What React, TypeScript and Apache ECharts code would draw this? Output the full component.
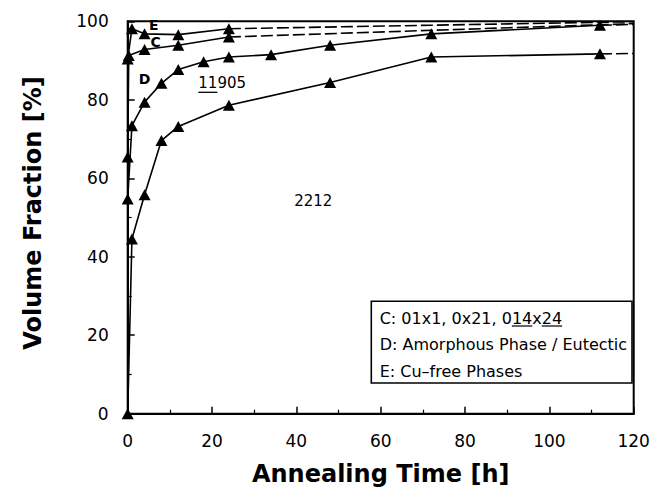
import React, { useEffect, useRef } from "react";
import * as echarts from "echarts";

// Annealing time (h) at which each sample was measured
const hours2212 = [0, 1, 4, 8, 12, 24, 48, 72, 112];
const hours11905 = [0, 1, 4, 8, 12, 18, 24, 34, 48, 72, 112];
const hoursC = [0, 0.25, 4, 12, 24];
const hoursE = [0, 1, 4, 12, 24];

// Cumulative volume fractions (%): each curve is the upper bound of a phase field
const cum2212 = [0, 44.5, 55.8, 69.6, 73.2, 78.6, 84.4, 90.9, 91.7];
const cum11905 = [54.7, 73.4, 79.4, 84.2, 87.7, 89.7, 90.9, 91.5, 93.9, 96.8, 99.0];
const cumD = [65.4, 91.3, 92.8, 93.9, 96.0];
const cumC = [90.4, 98.1, 96.8, 96.6, 98.1];

// Extrapolated values at the end of the time axis (dashed continuation)
const extrapHour = 120;
const extrap2212 = 91.8;
const extrap11905 = 99.2;
const extrapD = 99.4;
const extrapC = 99.9;

// Field labels inside the plot, placed in data coordinates [h, %]
const fieldLabels: { text: string; at: [number, number]; underline?: number }[] = [
  { text: "E", at: [6.2, 99.0] },
  { text: "C", at: [6.6, 94.6] },
  { text: "D", at: [4.0, 85.3] },
  { text: "11905", at: [22.4, 84.2], underline: 2 },
  { text: "2212", at: [44.0, 54.3] },
];

const legendLines = ["C: 01x1, 0x21, 014x24", "D: Amorphous Phase / Eutectic", "E: Cu\u2013free Phases"];

const FONT = "DejaVu Sans";

function measure(text: string, font: string): number {
  const ctx = document.createElement("canvas").getContext("2d");
  if (!ctx) return text.length * 8;
  ctx.font = font;
  return ctx.measureText(text).width;
}

function pairs(xs: number[], ys: number[]): number[][] {
  return xs.map((x, i) => [x, ys[i]]);
}

function measuredSeries(name: string, xs: number[], ys: number[]) {
  return {
    name,
    type: "line",
    data: pairs(xs, ys),
    symbol: "triangle",
    symbolSize: [12, 11],
    itemStyle: { color: "#000" },
    lineStyle: { color: "#000", width: 1.6 },
    z: 3,
  };
}

function dashedSeries(name: string, xs: number[], ys: number[], end: number) {
  return {
    name,
    type: "line",
    data: [
      [xs[xs.length - 1], ys[ys.length - 1]],
      [extrapHour, end],
    ],
    symbol: "none",
    lineStyle: { color: "#000", width: 1.6, type: [12, 4] },
    z: 2,
  };
}

export default function App() {
  const ref = useRef<HTMLDivElement>(null);

  useEffect(() => {
    if (!ref.current) return;
    const chart = echarts.init(ref.current, null, { renderer: "svg" });

    const axisCommon = {
      axisLine: { show: true, lineStyle: { color: "#000", width: 2 } },
      axisTick: { show: true, inside: true, length: 7, lineStyle: { color: "#000", width: 1.5 } },
      minorTick: { show: true, splitNumber: 2, length: 4, lineStyle: { color: "#000", width: 1.2 } },
      splitLine: { show: false },
      axisLabel: { color: "#000", fontFamily: FONT, fontSize: 17, margin: 19 },
    };

    chart.setOption({
      animation: false,
      backgroundColor: "#fff",
      grid: {
        left: 119.7,
        right: 36.3,
        top: 13.3,
        bottom: 87.3,
        show: true,
        borderColor: "#000",
        borderWidth: 2,
      },
      xAxis: { type: "value", min: 0, max: 120, interval: 20, ...axisCommon },
      yAxis: { type: "value", min: 0, max: 100, interval: 20, ...axisCommon },
      series: [
        measuredSeries("2212", hours2212, cum2212),
        measuredSeries("11905", hours11905, cum11905),
        measuredSeries("D", hoursC, cumD),
        measuredSeries("C", hoursE, cumC),
        dashedSeries("2212 ext", hours2212, cum2212, extrap2212),
        dashedSeries("11905 ext", hours11905, cum11905, extrap11905),
        dashedSeries("D ext", hoursC, cumD, extrapD),
        dashedSeries("C ext", hoursE, cumC, extrapC),
      ],
    });

    const graphics: any[] = [];

    // Axis titles
    graphics.push({
      type: "text",
      x: 372.7,
      y: 466,
      style: {
        text: "Annealing Time [h]",
        font: `bold 24px "${FONT}"`,
        fill: "#000",
        align: "center",
        verticalAlign: "middle",
      },
    });
    graphics.push({
      type: "text",
      x: 25,
      y: 205,
      rotation: Math.PI / 2,
      style: {
        text: "Volume Fraction [%]",
        font: `bold 24px "${FONT}"`,
        fill: "#000",
        align: "center",
        verticalAlign: "middle",
      },
    });

    // Field labels
    const labelFont = `15px "${FONT}"`;
    fieldLabels.forEach((lab) => {
      const p = chart.convertToPixel({ gridIndex: 0 }, lab.at) as number[];
      graphics.push({
        type: "text",
        x: p[0],
        y: p[1],
        z: 5,
        style: {
          text: lab.text,
          font: lab.text.length === 1 ? `bold 14px "${FONT}"` : labelFont,
          fill: "#000",
          align: "center",
          verticalAlign: "middle",
        },
      });
      if (lab.underline) {
        const w = measure(lab.text, labelFont);
        const uw = measure(lab.text.slice(0, lab.underline), labelFont);
        const x0 = p[0] - w / 2;
        graphics.push({
          type: "line",
          shape: { x1: x0, y1: p[1] + 9, x2: x0 + uw, y2: p[1] + 9 },
          style: { stroke: "#000", lineWidth: 1.3 },
        });
      }
    });

    // Legend box
    const boxX = 363.3;
    const boxY = 293.3;
    const boxW = 260.7;
    const boxH = 81.7;
    graphics.push({
      type: "rect",
      shape: { x: boxX, y: boxY, width: boxW, height: boxH },
      style: { fill: "#fff", stroke: "#000", lineWidth: 1.6 },
      z: 10,
    });
    const legendFont = `16px "${FONT}"`;
    const rowY = [310, 336.7, 363.3];
    legendLines.forEach((t, i) => {
      graphics.push({
        type: "text",
        x: 371.7,
        y: rowY[i],
        z: 11,
        style: { text: t, font: legendFont, fill: "#000", align: "left", verticalAlign: "middle" },
      });
    });
    // Underlines under the "14" and "24" indices of the first row
    const row0 = legendLines[0];
    const idx14 = row0.lastIndexOf("14");
    const idx24 = row0.lastIndexOf("24");
    [idx14, idx24].forEach((idx) => {
      const xs = 371.7 + measure(row0.slice(0, idx), legendFont);
      const xe = 371.7 + measure(row0.slice(0, idx + 2), legendFont);
      graphics.push({
        type: "line",
        z: 11,
        shape: { x1: xs, y1: rowY[0] + 8, x2: xe, y2: rowY[0] + 8 },
        style: { stroke: "#000", lineWidth: 1.2 },
      });
    });

    chart.setOption({ graphic: graphics });

    return () => chart.dispose();
  }, []);

  return <div ref={ref} style={{ width: 662, height: 493 }} />;
}
